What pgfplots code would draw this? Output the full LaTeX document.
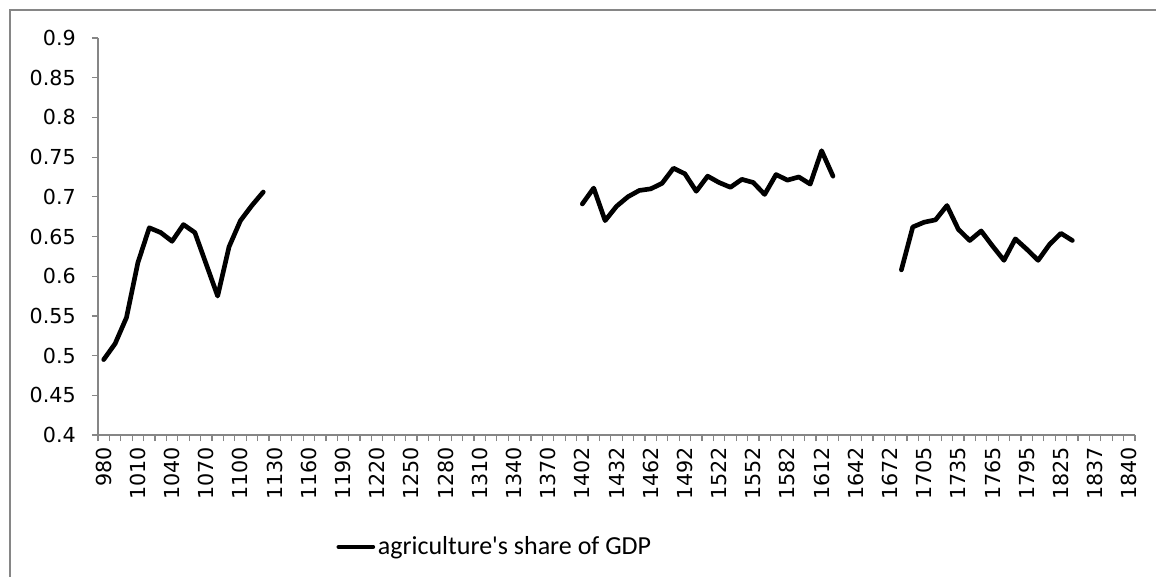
\documentclass[border=0pt]{standalone}
\usepackage{fontspec}
\setmainfont{DejaVu Sans}
\newfontfamily\legfont{Carlito}
\usepackage{pgfplots}
\pgfplotsset{compat=1.18}
\definecolor{axgray}{HTML}{868686}

\pgfplotstableread{
x y
0 0.495
1 0.515
2 0.548
3 0.617
4 0.661
5 0.655
6 0.644
7 0.665
8 0.655
9 0.615
10 0.575
11 0.637
12 0.670
13 0.689
14 0.706
15 nan
42 0.691
43 0.711
44 0.670
45 0.688
46 0.700
47 0.708
48 0.710
49 0.717
50 0.736
51 0.729
52 0.707
53 0.726
54 0.718
55 0.712
56 0.722
57 0.718
58 0.703
59 0.728
60 0.721
61 0.725
62 0.716
63 0.758
64 0.726
65 nan
70 0.608
71 0.662
72 0.668
73 0.671
74 0.689
75 0.659
76 0.645
77 0.657
78 0.638
79 0.620
80 0.647
81 0.634
82 0.620
83 0.640
84 0.654
85 0.645
}\agri

\begin{document}
\fontsize{15.5}{18}\selectfont
\begin{tikzpicture}[x=1pt, y=1pt]
% page = 1156x576 px, 1px = 0.75pt, origin at the lower left of the plot area
\useasboundingbox (-73.5,-105.75) rectangle (793.5,326.25);
\draw[axgray, line width=1.5pt] (-66,-120) -- (-66,318.75) -- (800,318.75);
\begin{axis}[
    name=ax,
    at={(0,0)}, anchor=south west,
    scale only axis,
    width=777.75pt, height=297.75pt,
    xmin=-0.5, xmax=90.5,
    ymin=0.4, ymax=0.9,
    axis x line=bottom, axis y line=left,
    axis line style={-, axgray, line width=0.9pt},
    tick align=outside,
    tick style={axgray, line width=0.9pt},
    major tick length=4.5pt,
    xtick={-0.5,0.5,...,90.5},
    xticklabels={},
    extra x ticks={0,3,...,90},
    extra x tick style={major tick length=0pt},
    extra x tick labels={980,1010,1040,1070,1100,1130,1160,1190,1220,1250,1280,1310,1340,1370,1402,1432,1462,1492,1522,1552,1582,1612,1642,1672,1705,1735,1765,1795,1825,1837,1840},
    xticklabel style={yshift=-9pt, rotate=90, anchor=east, inner sep=0pt},
    ytick={0.4,0.45,...,0.91},
    yticklabel style={inner sep=0pt, xshift=-12pt},
    /pgf/number format/assume math mode=true,
    yticklabel={\pgfmathprintnumber[fixed,precision=2]{\tick}},
    unbounded coords=jump,
    clip=false,
    legend style={at={(0.383,-0.282)}, anchor=center, draw=none, fill=none,
        font=\legfont\fontsize{19.5}{22}\selectfont, inner sep=0pt},
    legend image code/.code={\draw[line width=3pt, black] (0pt,0pt) -- (26pt,0pt);},
    legend cell align=left,
]
\addplot[black, line width=3.5pt, line join=round, line cap=round] table[x=x, y=y] {\agri};
\addlegendentry{agriculture's share of GDP}
\end{axis}
\end{tikzpicture}
\end{document}
